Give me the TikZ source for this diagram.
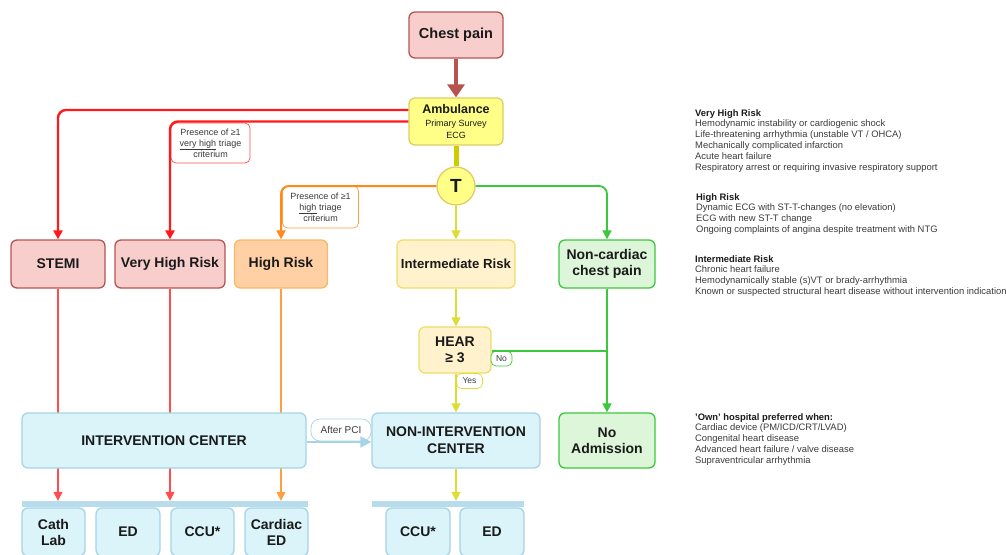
\documentclass[tikz,border=0pt]{standalone}
\usepackage{fontspec}
\setmainfont{Liberation Sans}
\usetikzlibrary{arrows.meta,calc,backgrounds}
\definecolor{redfill}{HTML}{F8CECC}
\definecolor{redline}{HTML}{B85450}
\definecolor{vred}{HTML}{FF1A1A}
\definecolor{lred}{HTML}{FF4D4D}
\definecolor{orng}{HTML}{FF8A1A}
\definecolor{lorng}{HTML}{FFA040}
\definecolor{ylw}{HTML}{DDDD33}
\definecolor{ythick}{HTML}{CCCC00}
\definecolor{ambfill}{HTML}{FFFF88}
\definecolor{ambline}{HTML}{E0CC66}
\definecolor{hrfill}{HTML}{FFD0A4}
\definecolor{hrline}{HTML}{F7B868}
\definecolor{irfill}{HTML}{FFF2CC}
\definecolor{irline}{HTML}{EEDD66}
\definecolor{grn}{HTML}{3CC83C}
\definecolor{grnfill}{HTML}{DDF6DA}
\definecolor{bfill}{HTML}{DAF4FA}
\definecolor{bline}{HTML}{A6D3E6}
\definecolor{bbar}{HTML}{B8DCEC}
\definecolor{txt}{HTML}{1A1A1A}
\definecolor{gtxt}{HTML}{3A3A3A}
\tikzset{
  box/.style={draw, rounded corners=6pt, line width=1.3pt, align=center, inner sep=0pt,
    text=txt, font=\bfseries\fontsize{14}{16}\selectfont},
  redbox/.style={box, fill=redfill, draw=redline},
  bluebox/.style={box, fill=bfill, draw=bline},
  grnbox/.style={box, fill=grnfill, draw=grn},
  lbl/.style={draw, fill=white, rounded corners=5pt, line width=0.7pt, align=center,
    inner sep=0pt, text=gtxt, font=\fontsize{9}{11}\selectfont},
  tip/.style={-{Triangle[length=9pt,width=9pt]}},
  side/.style={anchor=north west, align=left, inner sep=0pt, text=gtxt,
    font=\fontsize{9.4}{10.8}\selectfont},
}
\begin{document}
\begin{tikzpicture}[x=1pt,y=-1pt]
\useasboundingbox (0,0) rectangle (1006,554);
\clip (0,0) rectangle (1006,554);
% main boxes
\node[redbox, minimum width=94pt, minimum height=46pt, font=\bfseries\fontsize{14.5}{16}\selectfont] (chest) at (456,35) {\raisebox{4pt}{Chest pain}};
\node[box, fill=ambfill, draw=ambline, minimum width=94pt, minimum height=47pt] (amb) at (456,121.5)
  {\fontsize{12.5}{12}\selectfont Ambulance\\[-3pt]\mdseries\fontsize{9}{10}\selectfont Primary Survey\\[-4pt]\mdseries\fontsize{9}{10}\selectfont ECG};
\node[circle, draw=ambline, fill=ambfill, line width=1.3pt, minimum size=38pt, inner sep=0pt,
  text=txt, font=\bfseries\fontsize{19}{20}\selectfont] (T) at (456,186) {T};

\node[redbox, minimum width=94pt, minimum height=48pt] (stemi) at (58,264) {\raisebox{-9pt}{STEMI}};
\node[redbox, minimum width=110pt, minimum height=48pt] (vhr) at (170,264) {\raisebox{-7pt}{Very High Risk}};
\node[box, fill=hrfill, draw=hrline, minimum width=93pt, minimum height=48pt] (hr) at (281,264) {\raisebox{-7pt}{High Risk}};
\node[box, fill=irfill, draw=irline, minimum width=118pt, minimum height=48pt, font=\bfseries\fontsize{13.2}{15}\selectfont] (ir) at (456,264) {\raisebox{-7pt}{Intermediate Risk}};
\node[grnbox, minimum width=96pt, minimum height=48pt] (nc) at (607,264) {Non-cardiac\\chest pain};
\node[box, fill=irfill, draw=irline, minimum width=72pt, minimum height=46pt] (hear) at (455,350) {HEAR\\≥ 3};

\node[bluebox, minimum width=284pt, minimum height=55pt] (ic) at (164,440.5) {INTERVENTION CENTER};
\node[bluebox, minimum width=168pt, minimum height=55pt, font=\bfseries\fontsize{14}{17}\selectfont] (nic) at (456,440.5) {NON-INTERVENTION\\CENTER};
\node[grnbox, minimum width=96pt, minimum height=55pt] (noadm) at (607,440.5) {No\\Admission};

% bottom bars and boxes
\node[fill=bbar, inner sep=0pt, minimum width=286pt, minimum height=6pt] (bar1) at (165,504) {};
\node[fill=bbar, inner sep=0pt, minimum width=152pt, minimum height=6pt] (bar2) at (448,504) {};
\node[bluebox, minimum width=63pt, minimum height=48pt] (cath) at (53.5,532) {Cath\\Lab};
\node[bluebox, minimum width=64pt, minimum height=48pt] (ed1) at (128,532) {ED};
\node[bluebox, minimum width=63pt, minimum height=48pt] (ccu1) at (202.5,532) {CCU*};
\node[bluebox, minimum width=63pt, minimum height=48pt] (ced) at (276.5,532) {Cardiac\\ED};
\node[bluebox, minimum width=64pt, minimum height=48pt] (ccu2) at (418,532) {CCU*};
\node[bluebox, minimum width=64pt, minimum height=48pt] (ed2) at (492,532) {ED};

% edge labels
\node[lbl, draw=lred, minimum width=79pt, minimum height=40pt] (lab1) at (210.5,143)
  {Presence of ≥1\\\underline{very high} triage\\criterium};
\node[lbl, draw=lorng, minimum width=76pt, minimum height=42pt] (lab2) at (320.5,207)
  {Presence of ≥1\\\underline{high} triage\\criterium};
\node[lbl, draw=grn, minimum width=21pt, minimum height=15pt, font=\fontsize{8.5}{9}\selectfont] (labno) at (501.5,358.5) {No};
\node[lbl, draw=ylw, minimum width=26pt, minimum height=15pt, font=\fontsize{8.5}{9}\selectfont] (labyes) at (469.5,381) {Yes};
\node[lbl, draw=bline, rounded corners=9pt, minimum width=60pt, minimum height=22pt, font=\fontsize{10}{11}\selectfont] (labpci) at (341,430) {After PCI};

% connectors
\draw[redline, line width=3.5pt, -{Triangle[length=13pt,width=17pt]}] (chest.south) -- (amb.north);
\draw[ythick, line width=5pt] (amb.south) -- (T.north);
\draw[vred, line width=2.4pt, rounded corners=8pt, tip] ([yshift=11.5pt]amb.west) -| (stemi.north);
\draw[vred, line width=2.4pt, rounded corners=8pt, tip] (amb.west) -| (vhr.north);
\draw[orng, line width=2pt, rounded corners=8pt, tip] (T.west) -| (hr.north);
\draw[ylw, line width=1.6pt, tip] (T.south) -- (ir.north);
\draw[grn, line width=1.8pt, rounded corners=8pt, tip] (T.east) -| (nc.north);

\draw[ylw, line width=1.6pt, tip] (ir.south) -- (ir.south |- hear.north);
\draw[grn, line width=1.8pt] (hear.east |- 0,351) -- (nc.south |- 0,351);
\draw[grn, line width=1.8pt, tip] (nc.south) -- (noadm.north);
\draw[ylw, line width=1.6pt, tip] (ir.south |- hear.south) -- (ir.south |- nic.north);
\draw[bline, line width=1.6pt, -{Triangle[length=11pt,width=11pt]}] (ic.east |- 0,442) -- (nic.west |- 0,442);

% lower lines (behind intervention center)
\begin{scope}[on background layer]
\draw[lred, line width=1.3pt, tip] (stemi.south) -- (stemi.south |- bar1.north);
\draw[lred, line width=1.3pt, tip] (vhr.south) -- (vhr.south |- bar1.north);
\draw[lorng, line width=1.3pt, tip] (hr.south) -- (hr.south |- bar1.north);
\end{scope}
\draw[ylw, line width=1.6pt, tip] (nic.south) -- (nic.south |- bar2.north);

% side text
\node[side] (t1) at (695,109) {\textbf{\color{txt}Very High Risk}\\
Hemodynamic instability or cardiogenic shock\\
Life-threatening arrhythmia (unstable VT / OHCA)\\
Mechanically complicated infarction\\
Acute heart failure\\
Respiratory arrest or requiring invasive respiratory support};
\node[side] (t2) at (696,193) {\textbf{\color{txt}High Risk}\\
Dynamic ECG with ST-T-changes (no elevation)\\
ECG with new ST-T change\\
Ongoing complaints of angina despite treatment with NTG};
\node[side] (t3) at (695,255) {\textbf{\color{txt}Intermediate Risk}\\
Chronic heart failure\\
Hemodynamically stable (s)VT or brady-arrhythmia\\
Known or suspected structural heart disease without intervention indication};
\node[side] (t4) at (695,413) {\textbf{\color{txt}'Own' hospital preferred when:}\\
Cardiac device (PM/ICD/CRT/LVAD)\\
Congenital heart disease\\
Advanced heart failure / valve disease\\
Supraventricular arrhythmia};
\end{tikzpicture}
\end{document}
